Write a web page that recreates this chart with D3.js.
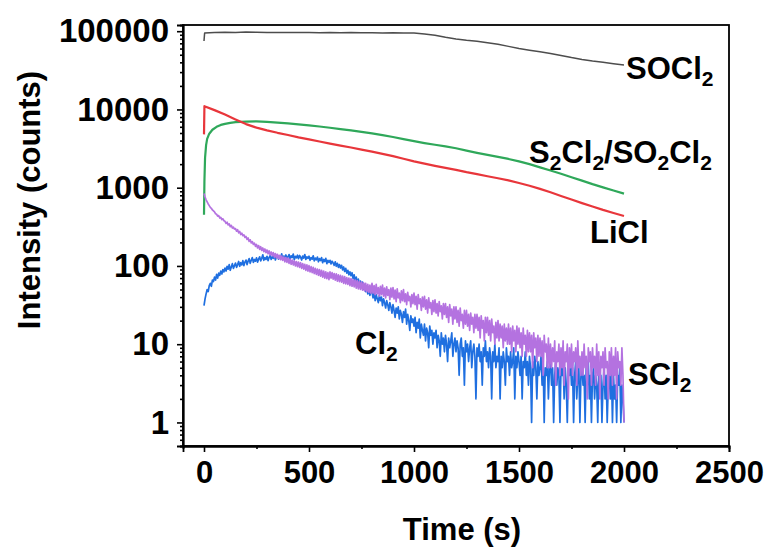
<!DOCTYPE html>
<html><head><meta charset="utf-8">
<script src="https://cdn.jsdelivr.net/npm/d3@7"></script>
<style>
html,body{margin:0;padding:0;background:#fff;}
text{font-family:"Liberation Sans",Arial,sans-serif;font-weight:bold;fill:#000;}
</style></head>
<body><svg id="c" width="771" height="552"></svg>
<script>
// ---------- data ----------
const grid50 = [50,100,150,200,250,300,350,400,450,500,550,600,650,700,750,800,850,900,950,1000,
  1050,1100,1150,1200,1250,1300,1350,1400,1450,1500,1550,1600,1650,1700,1750,1800,1850,1900,1950,2000];

const soclTime = [0,3].concat(grid50);
const soclValues = [75000,95000,96000,97000,96500,97500,97000,96500,96000,96500,96000,96000,95500,96000,95500,96000,
  95500,95500,95000,95500,95000,94500,92000,88500,83500,79500,76500,74500,71000,68000,64000,60000,57000,54500,
  52000,49000,46000,43500,41500,40000,38500,37000];

const liclTime = [0,2].concat(grid50);
const liclValues = [4800,11000,9800,8600,7450,6500,5850,5400,5030,4720,4400,4150,3890,3660,3450,3260,3070,2890,
  2710,2530,2340,2170,2030,1900,1790,1690,1580,1490,1400,1320,1240,1150,1060,965,875,785,705,635,575,520,475,435];

const s2clTime = [0,2,5,10,15,25,40,60,80,100,125,150,175,200].concat(grid50.slice(4));
const s2clValues = [450,1200,2400,3500,4200,4900,5500,6000,6350,6550,6750,6900,6950,7000,
  7050,6950,6800,6620,6450,6270,6050,5830,5610,5390,5160,4940,4700,4450,4180,3930,3720,3540,3370,3190,
  2980,2790,2630,2480,2330,2170,2000,1820,1660,1510,1360,1230,1110,1010,920,840];

const noisyTime = d3.range(0, 2001, 5);
const cl2Values = [
  31,38,44,50,47,56,60,55,66,63,
  72,66,78,70,81,76,86,79,90,84,
  94,86,99,91,104,88,97,107,93,101,
  109,96,104,114,99,110,103,117,101,112,
  119,104,115,124,108,118,128,111,121,115,
  127,112,122,131,116,125,139,118,128,121,
  133,117,128,136,121,131,125,140,119,130,
  136,122,132,127,143,121,134,128,138,124,
  131,140,122,135,128,142,120,133,127,137,
  124,136,129,119,134,126,140,121,131,125,
  133,118,128,122,135,116,126,120,130,113,
  124,117,128,110,121,114,125,107,118,111,
  118,106,115,109,102,113,99,108,96,104,
  94,102,89,97,85,93,81,88,77,84,
  75,82,69,77,64,72,60,68,57,64,
  54,62,50,58,47,54,44,51,42,48,
  46,39,47,36,43,38,34,42,36,40,
  31,38,34,29,36,32,27,34,30,25,
  32,27,22,29,25,30,21,27,24,19,
  26,22,28,18,24,20,15,23,19,21,
  17,22,14,19,16,21,12,18,15,13,
  18,11,16,14,9,17,13,15,10,14,
  12,15,9,13,11,7,14,10,12,8,
  13,10,6,12,9,11,14,7,10,12,
  8,11,9,4,10,12,7,9,3,11,
  8,10,6,9,11,5,8,10,7,2,
  9,7,10,6,8,3,9,7,11,6,
  8,5,9,7,2,8,6,10,5,7,
  6,9,2,7,5,8,6,3,9,6,
  7,4,8,5,6,9,2,7,5,8,
  6,4,7,2,6,5,8,4,6,3,
  7,5,1,6,4,7,5,2,6,4,
  5,7,3,6,1,5,4,6,2,5,
  6,3,5,1,4,6,3,5,4,1,
  5,4,6,2,5,3,1,5,4,6,
  3,5,1,4,6,2,4,5,1,4,
  5,3,4,1,5,3,6,2,4,1,
  4,5,2,4,3,1,5,3,4,1,
  3,5,2,4,1,3,4,2,5,1,
  4,2,3,1,4,3,5,1,3,2,
  1];
const scl2Values = [
  840,760,700,660,620,590,560,545,520,505,
  490,465,458,432,440,410,418,392,400,378,
  372,350,362,334,345,318,330,305,314,296,
  300,278,290,265,276,252,262,244,250,232,
  238,218,228,206,216,197,205,188,196,178,
  188,170,182,163,176,158,170,152,165,148,
  160,143,156,138,151,135,148,130,144,127,
  141,124,137,120,134,118,130,113,128,111,
  126,108,122,105,119,103,116,100,114,98,
  112,96,110,93,107,91,105,88,103,86,
  101,84,98,82,96,80,93,78,91,76,
  90,74,88,72,86,70,84,69,82,67,
  84,70,82,68,80,66,79,64,77,63,
  76,62,74,60,73,59,71,58,70,56,
  69,55,67,54,66,52,65,51,63,50,
  62,49,61,48,60,47,58,46,57,45,
  60,45,56,43,58,44,53,41,55,43,
  57,41,52,39,54,42,50,37,52,40,
  53,38,49,35,51,39,45,34,48,36,
  50,35,44,32,46,36,41,30,43,33,
  45,32,41,28,43,33,38,27,40,30,
  41,28,37,25,39,29,34,24,36,26,
  37,25,33,23,35,26,31,21,33,24,
  33,22,30,19,32,23,28,18,30,21,
  30,19,27,17,29,20,24,16,27,18,
  27,17,24,15,25,18,22,14,24,16,
  24,15,22,12,23,16,20,11,22,14,
  22,13,20,11,21,14,17,10,19,12,
  20,11,18,12,17,9,18,11,16,10,
  18,10,16,8,17,11,15,8,17,10,
  16,9,14,7,16,10,13,7,15,8,
  14,8,13,5,14,9,12,6,13,7,
  12,7,11,4,13,8,10,5,12,5,
  10,5,9,6,11,3,8,6,10,4,
  9,5,11,3,8,6,10,2,9,5,
  10,4,8,6,9,3,11,5,7,4,
  8,4,10,5,7,2,9,6,8,3,
  9,5,7,3,10,4,8,2,7,5,
  8,3,9,5,6,2,8,4,9,3,
  7,4,9,2,8,5,6,3,9,4,
  1];

const xTicks = [0,500,1000,1500,2000,2500];
const xMinorTicks = [250,750,1250,1750,2250];
const yTicks = [1,10,100,1000,10000,100000];

// ---------- drawing ----------
const svg = d3.select("#c");
svg.append("rect").attr("width",771).attr("height",552).attr("fill","#fff");
const L = 183, R = 729, T = 25, B = 446;
const x = d3.scaleLinear().domain([-100, 2500]).range([L, R]);
const y = d3.scaleLog().domain([0.5, 120000]).range([B, T]);

const yMinor = [];
[0.1,1,10,100,1000,10000,100000].forEach(d => { for (let k=2;k<=9;k++){ const v=d*k; if (v>=0.5 && v<=120000) yMinor.push(v);} });

function series(times, vals, color, w){
  const data = times.map((t,i)=>[t, vals[i]]);
  svg.append("path").datum(data)
    .attr("fill","none").attr("stroke",color).attr("stroke-width",w)
    .attr("stroke-linejoin","round")
    .attr("d", d3.line().x(d=>x(d[0])).y(d=>y(d[1])));
}
series(soclTime, soclValues, "#4d4d4d", 1.5);
series(s2clTime, s2clValues, "#2fa85a", 2.2);
series(liclTime, liclValues, "#e8363b", 2.2);
series(noisyTime, cl2Values, "#1f6fe0", 1.7);
series(noisyTime, scl2Values, "#b472e0", 1.7);

// frame
svg.append("rect").attr("x",L).attr("y",T).attr("width",R-L).attr("height",B-T)
  .attr("fill","none").attr("stroke","#000").attr("stroke-width",1.8);

// axes
const gx = svg.append("g").attr("transform",`translate(0,${B})`)
  .call(d3.axisBottom(x).tickValues(xTicks).tickSize(6).tickPadding(9).tickFormat(d3.format("d")));
const gxm = svg.append("g").attr("transform",`translate(0,${B})`)
  .call(d3.axisBottom(x).tickValues(xMinorTicks).tickSize(3).tickFormat(""));
const gy = svg.append("g").attr("transform",`translate(${L},0)`)
  .call(d3.axisLeft(y).tickValues(yTicks).tickSize(6).tickPadding(8).tickFormat(d3.format("d")));
const gym = svg.append("g").attr("transform",`translate(${L},0)`)
  .call(d3.axisLeft(y).tickValues(yMinor).tickSize(3).tickFormat(""));
[gx,gxm,gy,gym].forEach(g=>{
  g.select(".domain").attr("stroke","#000").attr("stroke-width",1.8);
  g.selectAll(".tick line").attr("stroke","#000").attr("stroke-width",1.6);
  g.selectAll("text").attr("font-family",null).attr("font-size",null)
    .style("font-size","31px").style("font-family","'Liberation Sans',Arial,sans-serif").style("font-weight","bold").attr("fill","#000");
});
gy.selectAll("text").style("font-size","33px");

// axis titles
svg.append("text").attr("transform","translate(40,200) rotate(-90)").attr("text-anchor","middle")
  .style("font-size","31px").text("Intensity (counts)");
svg.append("text").attr("x",462).attr("y",540).attr("text-anchor","middle")
  .style("font-size","31px").text("Time (s)");

// curve labels with subscripts
function label(xp, yp, parts){
  const t = svg.append("text").attr("x",xp).attr("y",yp).style("font-size","31px");
  let sub = false;
  parts.forEach(p=>{
    const isSub = /^\d$/.test(p);
    const ts = t.append("tspan").text(p);
    if (isSub){ ts.style("font-size","21px").attr("dy", 7); sub = true; }
    else if (sub){ ts.attr("dy", -7); sub = false; }
  });
}
label(626, 79, ["SOCl","2"]);
label(529, 163, ["S","2","Cl","2","/SO","2","Cl","2"]);
label(590, 243, ["LiCl"]);
label(355, 354, ["Cl","2"]);
label(628, 385, ["SCl","2"]);
</script></body></html>
